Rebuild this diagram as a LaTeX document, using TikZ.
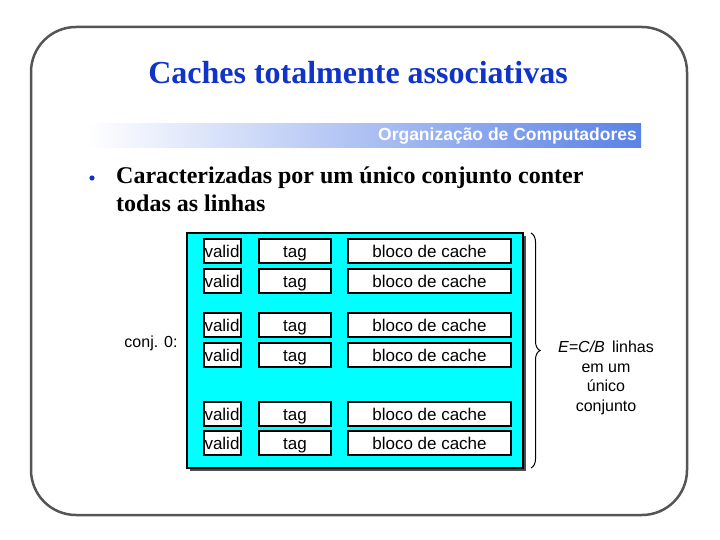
\documentclass[tikz,border=0pt]{standalone}
\usepackage{fontspec}
\setmainfont{Liberation Serif}
\setsansfont{Liberation Sans}
\usetikzlibrary{decorations.pathreplacing}
\definecolor{titleblue}{HTML}{1034C8}
\definecolor{barblue}{HTML}{5A82E6}
\definecolor{framegray}{HTML}{555555}
\definecolor{boxcyan}{HTML}{00FFFF}
\begin{document}
\begin{tikzpicture}[x=1pt,y=-1pt,
  cell/.style={draw=black, line width=1.6pt, fill=white, minimum height=24pt, inner sep=0pt,
    text height=14pt, text depth=2pt,
    font=\sffamily\fontsize{17}{18}\selectfont},
  validcell/.style={cell, minimum width=37pt, text width=36pt, align=left, inner xsep=0.5pt},
  tagcell/.style={cell, minimum width=72pt},
  blococell/.style={cell, minimum width=163pt},
  lbl/.style={font=\sffamily\fontsize{16}{19.5}\selectfont, inner sep=0pt}
]
\useasboundingbox (0,0) rectangle (720,540);
% frame
\draw[framegray, line width=2.5pt, rounded corners=45pt] (31,27) rectangle (687,515);
% title
\node[font=\bfseries\fontsize{32}{34}\selectfont, text=titleblue] (title) at (358,73) {Caches totalmente associativas};
% gradient bar
\shade[left color=white, right color=barblue] (88,124) rectangle (641,148);
\node[anchor=east, font=\sffamily\bfseries\fontsize{17.5}{19}\selectfont, text=white, inner sep=0pt] (org) at (637,136.5) {Organização de Computadores};
% bullet
\fill[titleblue] (92,178) circle (2.6pt);
\node[anchor=north west, align=left, inner sep=0pt, font=\bfseries\fontsize{24}{28}\selectfont] (bul) at (116,167)
  {Caracterizadas por um único conjunto conter\\todas as linhas};
% cyan box
\fill[black!70] (190,236) rectangle (526,471);
\node[draw=black, line width=2.5pt, fill=boxcyan, minimum width=336pt, minimum height=235pt, inner sep=0pt] (cbox) at (355,350.5) {};
% rows
\foreach \i/\y in {1/251,2/281,3/325,4/355,5/414,6/443} {
  \node[validcell] (v\i) at (222.5,\y) {valid};
  \node[tagcell] (t\i) at (295,\y) {tag};
  \node[blococell] (b\i) at (429.5,\y) {bloco de cache};
}
% conj label
\node[lbl] (conj) at (151,343) {conj. 0:};
% brace
\coordinate (bt) at (531,233);
\coordinate (bb) at (531,468);
\draw[line width=1pt, decorate, decoration={brace, amplitude=9pt}] (bt) -- (bb);
\node[lbl, align=center] (elab) at (606,378) {\textit{E=C/B}\, linhas\\em um\\único\\conjunto};
\end{tikzpicture}
\end{document}
